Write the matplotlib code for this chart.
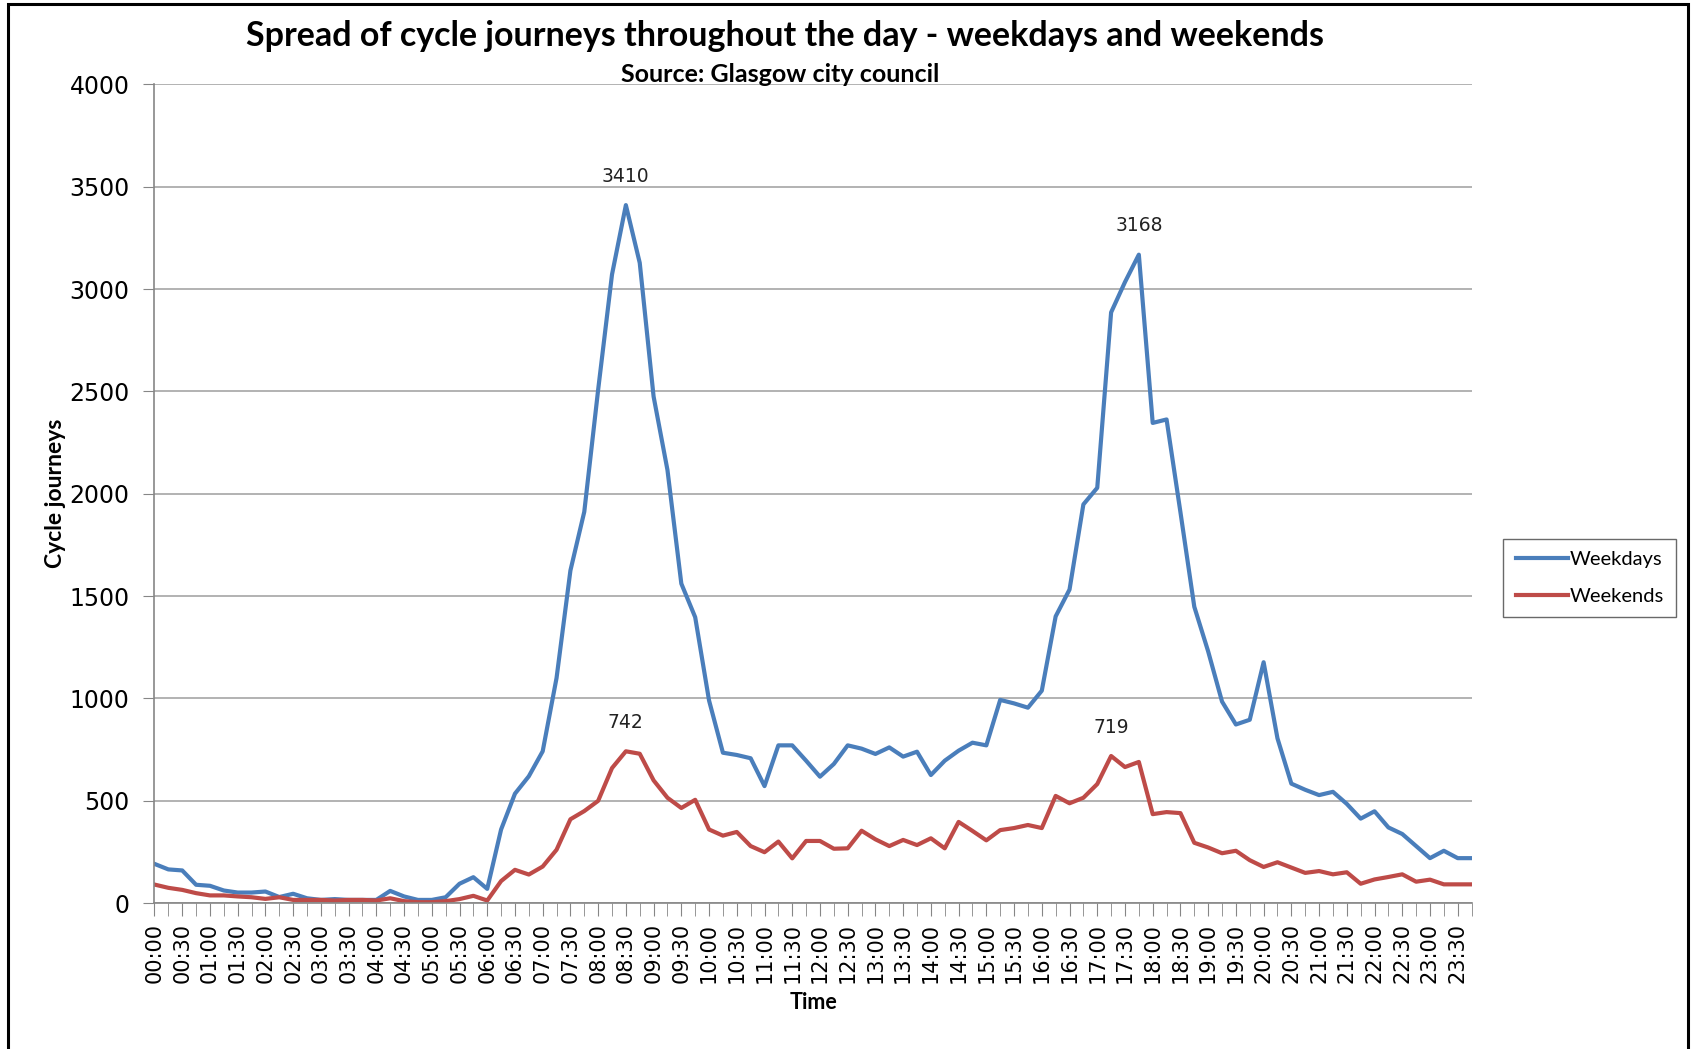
import matplotlib
matplotlib.use("Agg")
import matplotlib.pyplot as plt
from matplotlib.patches import Rectangle

BLUE = "#4A7EBB"
RED = "#BE4B48"
GRID = "#A6A6A6"
AXIS = "#868686"

# 15-minute slots, 00:00 .. 23:45
times = [f"{h:02d}:{m:02d}" for h in range(24) for m in (0, 15, 30, 45)]

weekdays = [
    192, 165, 160, 90, 85, 62, 52, 52, 57, 30, 46, 24,
    16, 20, 16, 16, 16, 60, 33, 16, 16, 29, 95, 127,
    70, 360, 535, 620, 742, 1100, 1625, 1912, 2508, 3071, 3410, 3128,
    2475, 2116, 1561, 1397, 990, 735, 724, 708, 572, 771, 771, 696,
    618, 680, 771, 755, 729, 761, 716, 740, 626, 696, 745, 784,
    771, 993, 976, 955, 1038, 1401, 1532, 1948, 2029, 2886, 3034, 3168,
    2346, 2363, 1910, 1448, 1230, 985, 873, 896, 1177, 805, 584, 554,
    528, 544, 485, 413, 449, 370, 338, 279, 220, 256, 220, 220,
]

weekends = [
    91, 75, 65, 49, 38, 38, 33, 29, 21, 29, 16, 16,
    16, 13, 16, 16, 13, 24, 10, 5, 5, 10, 20, 36,
    13, 108, 163, 140, 179, 261, 410, 450, 500, 660, 742, 730,
    600, 515, 465, 505, 360, 330, 348, 279, 249, 301, 219, 304,
    304, 266, 268, 354, 312, 279, 309, 284, 317, 268, 397, 353,
    307, 357, 367, 382, 367, 524, 488, 515, 582, 719, 665, 690,
    435, 445, 440, 295, 272, 244, 256, 210, 177, 200, 174, 148,
    157, 141, 151, 95, 116, 128, 141, 105, 115, 92, 92, 92,
]

# points that carry a data label
weekday_peaks = [34, 71]
weekend_peaks = [34, 69]

fig = plt.figure(figsize=(16.94, 10.49), dpi=100)
ax = fig.add_axes([0.0912, 0.139, 0.7775, 0.7806])

x = list(range(len(times)))
ax.plot(x, weekdays, color=BLUE, linewidth=3.0, label="Weekdays")
ax.plot(x, weekends, color=RED, linewidth=3.0, label="Weekends")

for series, idx in ((weekdays, weekday_peaks), (weekends, weekend_peaks)):
    for i in idx:
        ax.annotate(f"{series[i]}", (i, series[i]), xytext=(0, 14), textcoords="offset points",
                    ha="center", va="bottom", fontsize=13.5, color="#222222")

ax.set_xlim(0, len(times) - 1)
ax.set_ylim(0, 4000)
ax.set_yticks(range(0, 4001, 500))
ax.set_xticks(x, minor=True)
ax.set_xticks(x[::2])
ax.set_xticklabels(times[::2], rotation=90, fontsize=15, family="DejaVu Sans")
ax.tick_params(axis="y", labelsize=17, length=8, color=AXIS, pad=10)
ax.tick_params(axis="x", which="both", length=9, color=AXIS, pad=5)

ax.grid(axis="y", color=GRID, linewidth=1.2)
ax.set_axisbelow(True)
for s in ("top", "right"):
    ax.spines[s].set_visible(False)
for s in ("left", "bottom"):
    ax.spines[s].set_color(AXIS)
    ax.spines[s].set_linewidth(1.2)

ax.set_ylabel("Cycle journeys", fontsize=16.5, fontweight="bold", family="Lato", labelpad=2)
ax.set_xlabel("Time", fontsize=15.5, fontweight="bold", family="Lato", labelpad=7)

fig.text(0.4635, 0.966, "Spread of cycle journeys throughout the day - weekdays and weekends",
         ha="center", va="center", fontsize=24.5, fontweight="bold", family="Lato")
fig.text(0.4605, 0.929, "Source: Glasgow city council",
         ha="center", va="center", fontsize=18, fontweight="bold", family="Lato")

leg = fig.legend(loc="center", bbox_to_anchor=(0.9385, 0.449), frameon=True, fancybox=False,
                 handlelength=2.6, handletextpad=0.1, borderpad=0.6,
                 labelspacing=1.0, prop={"family": "Lato", "size": 14.5})
leg.get_frame().set_edgecolor("#444444")
leg.get_frame().set_linewidth(1.0)

# outer chart frame
fig.patches.append(Rectangle((8 / 1694, -0.05), 1680 / 1694, 1.05 - 4 / 1049, transform=fig.transFigure,
                             fill=False, edgecolor="black", linewidth=2.2))

fig.savefig("out.png", dpi=100)
